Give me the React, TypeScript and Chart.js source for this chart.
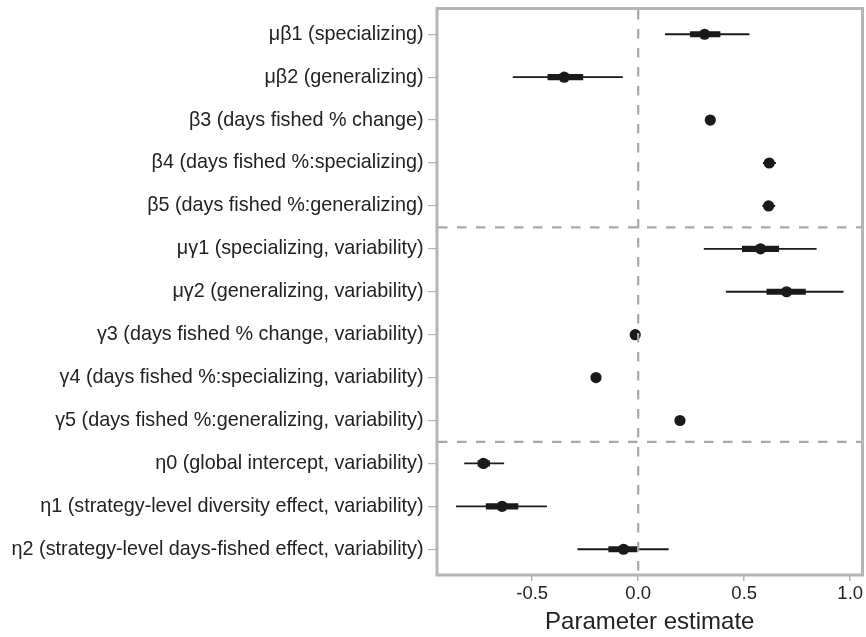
import React, { useEffect, useRef } from "react";
import { Chart, registerables } from "chart.js";

Chart.register(...registerables);

const parameterLabels: string[] = [
  "μβ1 (specializing)",
  "μβ2 (generalizing)",
  "β3 (days fished % change)",
  "β4 (days fished %:specializing)",
  "β5 (days fished %:generalizing)",
  "μγ1 (specializing, variability)",
  "μγ2 (generalizing, variability)",
  "γ3 (days fished % change, variability)",
  "γ4 (days fished %:specializing, variability)",
  "γ5 (days fished %:generalizing, variability)",
  "η0 (global intercept, variability)",
  "η1 (strategy-level diversity effect, variability)",
  "η2 (strategy-level days-fished effect, variability)",
];

const estimate: number[] = [0.313, -0.349, 0.34, 0.618, 0.615, 0.577, 0.7, -0.014, -0.199, 0.197, -0.73, -0.642, -0.069];
const innerLow: number[] = [0.246, -0.426, 0.334, 0.606, 0.603, 0.491, 0.607, -0.02, -0.205, 0.191, -0.756, -0.717, -0.139];
const innerHigh: number[] = [0.386, -0.261, 0.346, 0.63, 0.627, 0.663, 0.789, -0.008, -0.193, 0.203, -0.701, -0.567, -0.005];
const outerLow: number[] = [0.128, -0.59, 0.326, 0.59, 0.587, 0.311, 0.415, -0.026, -0.211, 0.185, -0.819, -0.858, -0.285];
const outerHigh: number[] = [0.523, -0.074, 0.354, 0.648, 0.645, 0.84, 0.967, -0.002, -0.187, 0.209, -0.634, -0.432, 0.142];

const xTickValues: number[] = [-0.5, 0, 0.5, 1.0];
const groupSeparators: number[] = [5.5, 10.5];
const zeroLine = 0;

const X_MIN = -0.949;
const X_MAX = 1.058;

const FONT = "'Liberation Sans', Arial, Helvetica, sans-serif";
const TEXT = "#222222";
const INK = "#1a1a1a";
const FRAME = "#b5b5b5";

const zeroPad = (scale: any) => {
  scale.paddingLeft = 0;
  scale.paddingRight = 0;
  scale.paddingTop = 0;
  scale.paddingBottom = 0;
};

const framePlugin = {
  id: "framePlugin",
  afterDatasetsDraw(chart: any) {
    const { ctx, chartArea, scales } = chart;
    const { left, right, top, bottom } = chartArea;
    ctx.save();
    ctx.strokeStyle = "#a8a8a8";
    ctx.lineWidth = 2.2;
    ctx.setLineDash([9.5, 9.5]);
    const x0 = scales.x.getPixelForValue(zeroLine);
    ctx.beginPath();
    ctx.moveTo(x0, top + 1.5);
    ctx.lineTo(x0, bottom);
    ctx.stroke();
    for (const s of groupSeparators) {
      const y = scales.y.getPixelForValue(s);
      ctx.beginPath();
      ctx.moveTo(left + 1, y);
      ctx.lineTo(right, y);
      ctx.stroke();
    }
    ctx.setLineDash([]);
    ctx.strokeStyle = FRAME;
    ctx.lineWidth = 3;
    ctx.strokeRect(left, top, right - left, bottom - top);
    ctx.restore();
  },
};

export default function App() {
  const canvasRef = useRef<HTMLCanvasElement | null>(null);

  useEffect(() => {
    document.body.style.margin = "0";
    const canvas = canvasRef.current;
    if (!canvas) return;
    const rows = parameterLabels.map((_, i) => i + 1);

    const chart = new Chart(canvas, {
      type: "bar",
      data: {
        datasets: [
          {
            type: "bar",
            label: "outer",
            data: rows.map((r, i) => ({ x: [outerLow[i], outerHigh[i]], y: r })) as any,
            backgroundColor: INK,
            borderWidth: 0,
            barThickness: 1.2,
            grouped: false,
            order: 3,
          } as any,
          {
            type: "bar",
            label: "inner",
            data: rows.map((r, i) => ({ x: [innerLow[i], innerHigh[i]], y: r })) as any,
            backgroundColor: INK,
            borderWidth: 0,
            barThickness: 5.5,
            grouped: false,
            order: 2,
          } as any,
          {
            type: "scatter",
            label: "estimate",
            data: rows.map((r, i) => ({ x: estimate[i], y: r })),
            backgroundColor: INK,
            borderWidth: 0,
            pointRadius: 5.6,
            pointHoverRadius: 5.6,
            order: 1,
          } as any,
        ],
      },
      options: {
        indexAxis: "y",
        animation: false,
        responsive: true,
        maintainAspectRatio: false,
        layout: { autoPadding: false, padding: { top: 8.5, right: 3.5, left: 0, bottom: 0 } },
        plugins: {
          legend: { display: false },
          tooltip: { enabled: false },
        },
        events: [],
        scales: {
          x: {
            type: "linear",
            position: "bottom",
            min: X_MIN,
            max: X_MAX,
            offset: false,
            afterBuildTicks: (scale: any) => {
              scale.ticks = xTickValues.map((v) => ({ value: v }));
            },
            afterFit: (scale: any) => {
              scale.height = 62;
              zeroPad(scale);
            },
            ticks: {
              callback: (v: any) => Number(v).toFixed(1),
              color: TEXT,
              font: { family: FONT, size: 18.5 },
              padding: 1.5,
              maxRotation: 0,
              autoSkip: false,
            },
            grid: {
              drawOnChartArea: false,
              drawTicks: true,
              tickLength: 6,
              color: FRAME,
              lineWidth: 1.5,
              offset: false,
            },
            border: { display: false },
            title: {
              display: true,
              text: "Parameter estimate",
              color: TEXT,
              font: { family: FONT, size: 24 },
              padding: { top: 0, bottom: 0 },
            },
          },
          y: {
            type: "linear",
            position: "left",
            min: 0.4,
            max: 13.6,
            reverse: true,
            offset: false,
            afterBuildTicks: (scale: any) => {
              scale.ticks = rows.map((v) => ({ value: v }));
            },
            afterFit: (scale: any) => {
              scale.width = 437;
              zeroPad(scale);
            },
            ticks: {
              callback: (v: any) => parameterLabels[Math.round(Number(v)) - 1] ?? "",
              color: TEXT,
              font: { family: FONT, size: 19.8 },
              padding: 4.5,
              autoSkip: false,
            },
            grid: {
              drawOnChartArea: false,
              drawTicks: true,
              tickLength: 9,
              color: FRAME,
              lineWidth: 1.2,
              offset: false,
            },
            border: { display: false },
          },
        },
      } as any,
      plugins: [framePlugin],
    });

    return () => chart.destroy();
  }, []);

  return (
    <div style={{ position: "absolute", left: 0, top: 0, width: 866, height: 637 }}>
      <canvas ref={canvasRef} />
    </div>
  );
}
